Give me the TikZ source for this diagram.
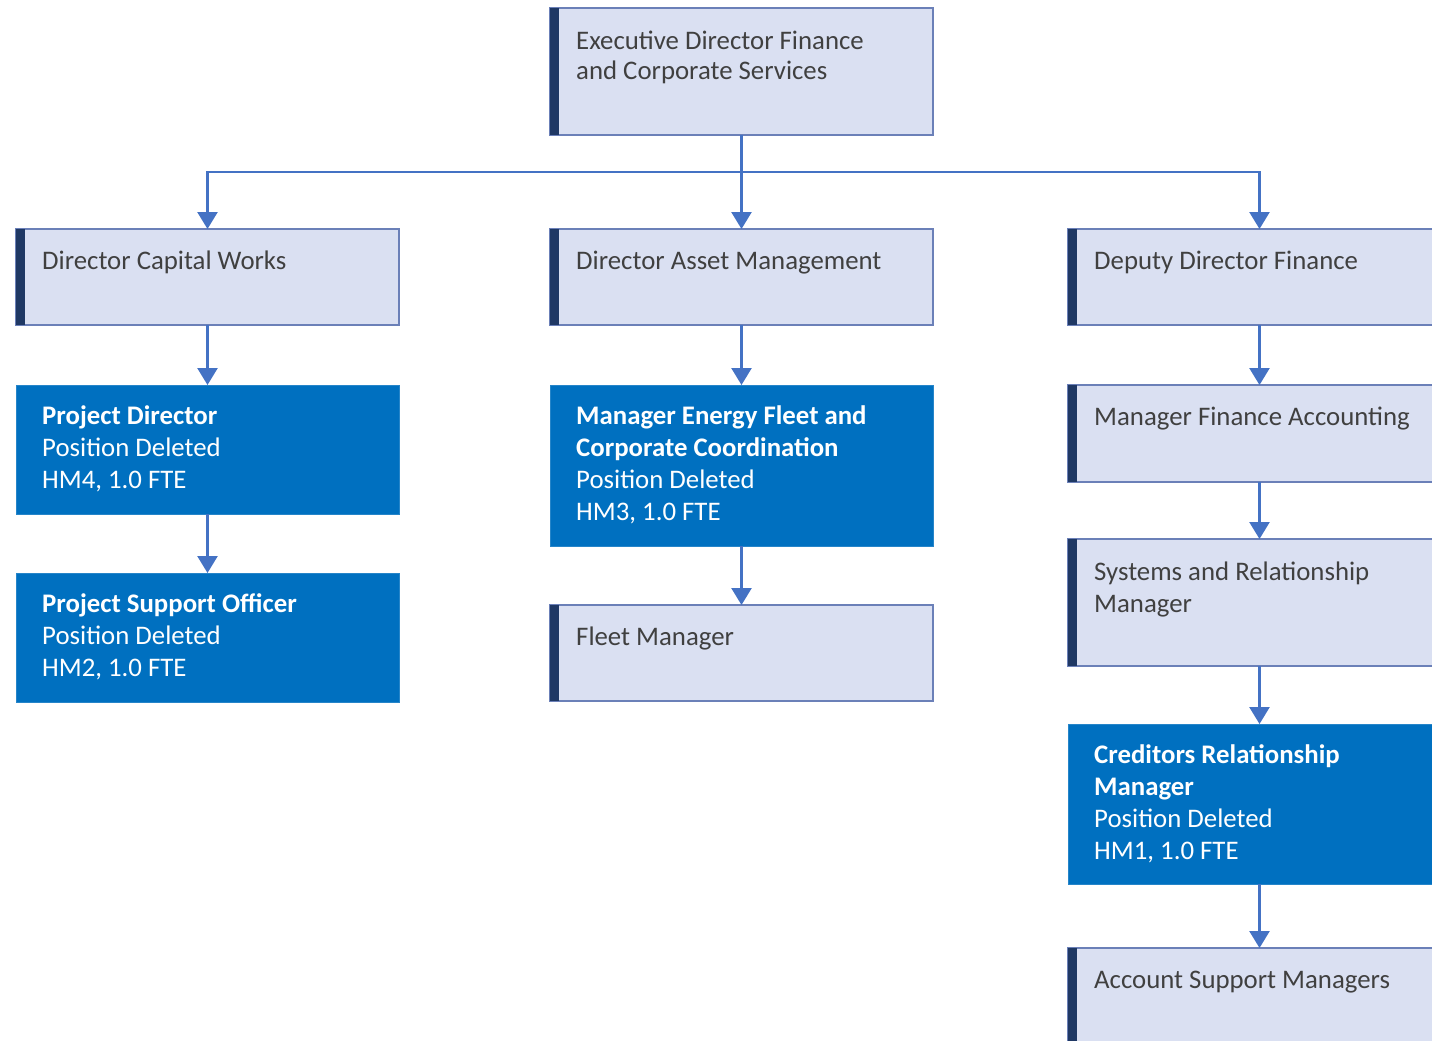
\documentclass[tikz,border=0pt]{standalone}
\usepackage{fontspec}
\setmainfont{Carlito}
\usetikzlibrary{arrows.meta}
\definecolor{lightfill}{HTML}{DAE0F2}
\definecolor{boxline}{HTML}{6B80B8}
\definecolor{barcol}{HTML}{1F3864}
\definecolor{darkfill}{HTML}{0070C0}
\definecolor{conncol}{HTML}{4472C4}
\definecolor{txtcol}{HTML}{404040}
\begin{document}
\begin{tikzpicture}[x=1pt,y=-1pt,
  lbox/.style={draw=boxline, line width=1.6pt, fill=lightfill, rectangle, inner sep=0pt, outer sep=0pt, anchor=north west, minimum width=383pt},
  dbox/.style={draw=darkfill!85!white, line width=1pt, fill=darkfill, rectangle, inner sep=0pt, outer sep=0pt, anchor=north west, minimum width=383pt},
  ltext/.style={anchor=north west, inner sep=0pt, align=left, font=\fontsize{26.8}{32}\selectfont, text=txtcol},
  wtext/.style={anchor=north west, inner sep=0pt, align=left, font=\fontsize{26.8}{32}\selectfont, text=white},
  connarrow/.style={draw=conncol, line width=2.5pt, -{Triangle[width=20pt,length=17pt]}},
]
\useasboundingbox (0,0) rectangle (1432,1041);
\fill[white] (0,0) rectangle (1432,1041);
\clip (0,0) rectangle (1432,1041);

% light boxes
\node[lbox, minimum height=127pt] (exec) at (550,8) {};
\node[lbox, minimum height=96pt] (dcw) at (16,229) {};
\node[lbox, minimum height=96pt] (dam) at (550,229) {};
\node[lbox, minimum height=96pt] (ddf) at (1068,229) {};
\node[lbox, minimum height=96pt] (fm) at (550,605) {};
\node[lbox, minimum height=97pt] (mfa) at (1068,385) {};
\node[lbox, minimum height=127pt] (srm) at (1068,539) {};
\node[lbox, minimum height=120pt] (asm) at (1068,948) {};
% dark boxes
\node[dbox, minimum height=129pt] (pd) at (16,385) {};
\node[dbox, minimum height=129pt] (pso) at (16,573) {};
\node[dbox, minimum height=161pt] (mef) at (550,385) {};
\node[dbox, minimum height=160pt] (crm) at (1068,724) {};

% left bars
\foreach \b in {exec,dcw,dam,ddf,fm,mfa,srm,asm}{
  \fill[barcol] (\b.north west) rectangle ([xshift=9pt]\b.south west);
}

% texts
\node[ltext] (t-exec) at (576,27) {\rule{0pt}{22pt}Executive Director Finance\\[-2pt]and Corporate Services};
\node[ltext] (t-dcw) at (42,247) {\rule{0pt}{22pt}Director Capital Works};
\node[ltext] (t-dam) at (576,247) {\rule{0pt}{22pt}Director Asset Management};
\node[ltext] (t-ddf) at (1094,247) {\rule{0pt}{22pt}Deputy Director Finance};
\node[ltext] (t-fm) at (576,623) {\rule{0pt}{22pt}Fleet Manager};
\node[ltext] (t-mfa) at (1094,403) {\rule{0pt}{22pt}Manager Finance Accounting};
\node[ltext] (t-srm) at (1094,558) {\rule{0pt}{22pt}Systems and Relationship\\Manager};
\node[ltext] (t-asm) at (1094,966) {\rule{0pt}{22pt}Account Support Managers};
\node[wtext] (t-pd) at (42,402) {\rule{0pt}{22pt}\textbf{Project Director}\\Position Deleted\\HM4, 1.0 FTE};
\node[wtext] (t-pso) at (42,590) {\rule{0pt}{22pt}\textbf{Project Support Officer}\\Position Deleted\\HM2, 1.0 FTE};
\node[wtext] (t-mef) at (576,402) {\rule{0pt}{22pt}\textbf{Manager Energy Fleet and}\\\textbf{Corporate Coordination}\\Position Deleted\\HM3, 1.0 FTE};
\node[wtext] (t-crm) at (1094,741) {\rule{0pt}{22pt}\textbf{Creditors Relationship}\\\textbf{Manager}\\Position Deleted\\HM1, 1.0 FTE};

% connectors
\draw[connarrow] (exec.south) -- ++(0,37) -| (dcw.north);
\draw[connarrow] (exec.south) -- ++(0,37) -| (ddf.north);
\draw[connarrow] (exec.south) -- (dam.north);
\draw[connarrow] (dcw.south) -- (pd.north);
\draw[connarrow] (pd.south) -- (pso.north);
\draw[connarrow] (dam.south) -- (mef.north);
\draw[connarrow] (mef.south) -- (fm.north);
\draw[connarrow] (ddf.south) -- (mfa.north);
\draw[connarrow] (mfa.south) -- (srm.north);
\draw[connarrow] (srm.south) -- (crm.north);
\draw[connarrow] (crm.south) -- (asm.north);
\end{tikzpicture}
\end{document}
